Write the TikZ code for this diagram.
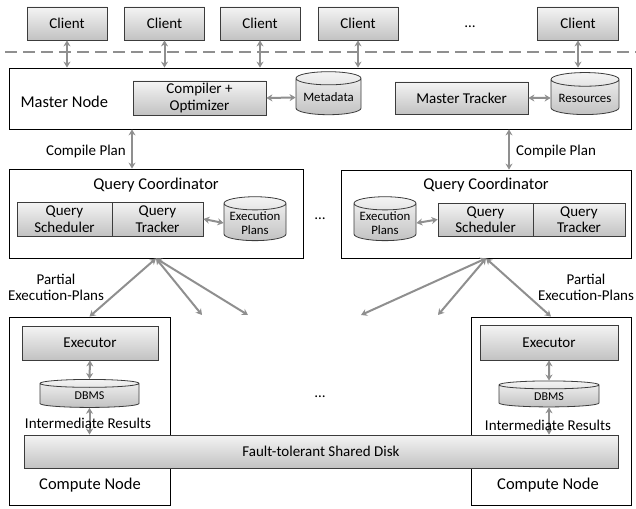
\documentclass[tikz,border=0pt]{standalone}
\usepackage{fontspec}
\setmainfont{Carlito}
\usetikzlibrary{shapes.geometric,arrows.meta}
\definecolor{boxtop}{HTML}{F4F4F4}
\definecolor{boxbot}{HTML}{C2C2C2}
\definecolor{linkgray}{HTML}{8F8F8F}
\definecolor{edgegray}{HTML}{3C3C3C}

\begin{document}
\begin{tikzpicture}[x=1pt,y=-1pt,font=\fontsize{15}{16.5}\selectfont]
  \tikzstyle{cont}=[draw=black, line width=0.8pt, fill=white]
  \tikzstyle{gbox}=[draw=edgegray, line width=0.8pt, top color=boxtop, bottom color=boxbot, align=center, inner sep=1pt]
  \tikzstyle{db}=[cylinder, shape border rotate=90, aspect=0.25, draw=edgegray, line width=0.8pt, top color=boxtop, bottom color=boxbot, align=center, inner sep=1pt, font=\fontsize{12.8}{14.5}\selectfont]
  \tikzstyle{both}=[{Stealth[length=6pt,width=7pt]}-{Stealth[length=6pt,width=7pt]}, line width=2pt, draw=linkgray]
  \tikzstyle{label}=[align=center, inner sep=1pt]
  \tikzstyle{title}=[font=\fontsize{16.5}{18}\selectfont]

  \path[use as bounding box] (0,0) rectangle (636,508);

  % clients
  \node[gbox, minimum width=80pt, minimum height=33pt] (c1) at (67,23.5) {Client};
  \node[gbox, minimum width=80pt, minimum height=33pt] (c2) at (164.5,23.5) {Client};
  \node[gbox, minimum width=80pt, minimum height=33pt] (c3) at (260,23.5) {Client};
  \node[gbox, minimum width=80pt, minimum height=33pt] (c4) at (358,23.5) {Client};
  \node[label] (cdots) at (470,27) {\ldots};
  \node[gbox, minimum width=81pt, minimum height=33pt] (c5) at (578,23.5) {Client};

  \draw[linkgray, line width=2pt, dash pattern=on 12pt off 6pt] (5,52) -- (636,52);

  % master node
  \node[cont, minimum width=622pt, minimum height=61pt] (master) at (320,98.5) {};
  \node[title, anchor=west] at (17,102) {Master Node};
  \node[gbox, minimum width=133pt, minimum height=34pt] (cmp) at (199.5,98) {Compiler +\\Optimizer};
  \node[db, minimum width=65pt, minimum height=43pt] (meta) at (328.5,97.5) {Metadata};
  \node[gbox, minimum width=133pt, minimum height=32pt] (mtr) at (461.5,98) {Master Tracker};
  \node[db, minimum width=68pt, minimum height=42pt] (res) at (585,98) {Resources};

  \draw[both] (c1.south) -- (master.north -| c1.south);
  \draw[both] (c2.south) -- (master.north -| c2.south);
  \draw[both] (c3.south) -- (master.north -| c3.south);
  \draw[both] (c4.south) -- (master.north -| c4.south);
  \draw[both] (c5.south) -- (master.north -| c5.south);
  \draw[both] (cmp.east) -- (meta.west);
  \draw[both] (mtr.east) -- (res.west);

  % query coordinators
  \node[cont, minimum width=294pt, minimum height=89pt] (qcl) at (156,213.5) {};
  \node[title] at (156,185) {Query Coordinator};
  \node[gbox, minimum width=95pt, minimum height=34pt] (qsl) at (64.5,219) {Query\\Scheduler};
  \node[gbox, minimum width=91pt, minimum height=34pt] (qtl) at (157.5,219) {Query\\Tracker};
  \node[db, minimum width=62pt, minimum height=40pt] (epl) at (255,223) {Execution\\Plans};

  \node[label] (qdots) at (320,219) {\ldots};

  \node[cont, minimum width=290pt, minimum height=88pt] (qcr) at (486,214) {};
  \node[title] at (486,185) {Query Coordinator};
  \node[db, minimum width=62pt, minimum height=40pt] (epr) at (385,223) {Execution\\Plans};
  \node[gbox, minimum width=95pt, minimum height=33pt] (qsr) at (485.5,219.5) {Query\\Scheduler};
  \node[gbox, minimum width=92pt, minimum height=33pt] (qtr) at (579,219.5) {Query\\Tracker};

  \draw[both] (qtl.east) -- (epl.west);
  \draw[both] (epr.east) -- (qsr.west);

  \node[label, anchor=east] (cpl) at (127,152) {Compile Plan};
  \coordinate (cpla) at (132,152);
  \draw[both] (master.south -| cpla) -- (qcl.north -| cpla);
  \node[label, anchor=west] (cpr) at (515,151) {Compile Plan};
  \coordinate (cpra) at (509,151);
  \draw[both] (master.south -| cpra) -- (qcr.north -| cpra);

  % compute nodes
  \node[cont, minimum width=161pt, minimum height=188pt] (cnl) at (89.5,411) {};
  \node[gbox, minimum width=136pt, minimum height=34pt] (exl) at (90,343) {Executor};
  \node[db, minimum width=99pt, minimum height=28pt, font=\fontsize{12}{14}\selectfont] (dbl) at (89.5,396) {DBMS};
  \node[title] at (90,485) {Compute Node};

  \node[label] (cdots2) at (320,397) {\ldots};

  \node[cont, minimum width=160pt, minimum height=188pt] (cnr) at (551,411) {};
  \node[gbox, minimum width=138pt, minimum height=35pt] (exr) at (549,342.5) {Executor};
  \node[db, minimum width=100pt, minimum height=26pt, font=\fontsize{12}{14}\selectfont] (dbr) at (549,396.5) {DBMS};
  \node[title] at (548,485) {Compute Node};

  \node[gbox, minimum width=594pt, minimum height=33pt] (disk) at (321,451.5) {Fault-tolerant Shared Disk};

  \draw[both] (exl.south) -- (dbl.north);
  \draw[both] (dbl.south) -- (disk.north -| dbl.south);
  \draw[both] (exr.south) -- (dbr.north);
  \draw[both] (dbr.south) -- (disk.north -| dbr.south);
  \node[label] at (88,423) {Intermediate Results};
  \node[label] at (548,425) {Intermediate Results};

  % partial plans
  \coordinate (pl2) at (202,315);
  \coordinate (pl3) at (248,315);
  \coordinate (pr1) at (361,315);
  \coordinate (pr2) at (438,315);
  \draw[both] (qcl.south) -- (cnl.north);
  \draw[both] (qcl.south) -- (pl2);
  \draw[both] (qcl.south) -- (pl3);
  \draw[both] (qcr.south) -- (pr1);
  \draw[both] (qcr.south) -- (pr2);
  \draw[both] (qcr.south) -- (cnr.north);
  \node[label] at (56,287.5) {Partial\\Execution-Plans};
  \node[label] at (586,287.5) {Partial\\Execution-Plans};
\end{tikzpicture}
\end{document}
